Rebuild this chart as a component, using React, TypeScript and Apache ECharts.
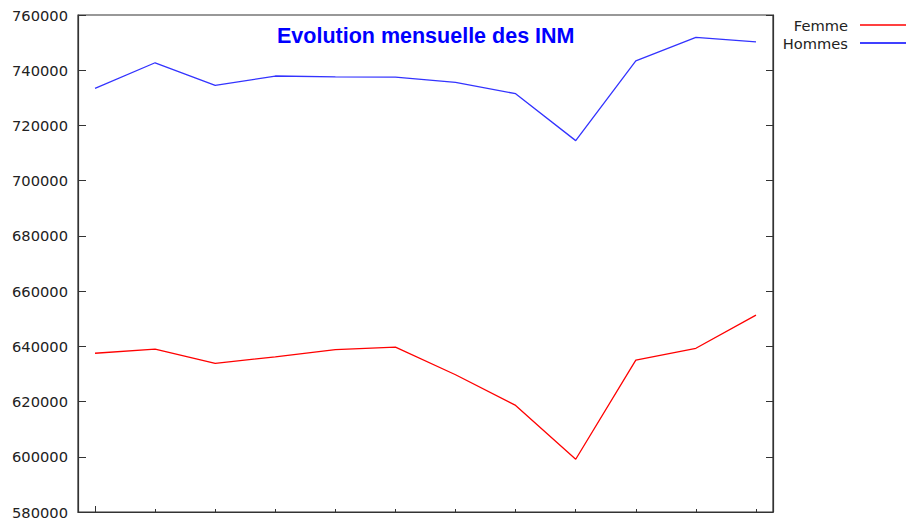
import React, { useEffect, useRef } from "react";
import * as echarts from "echarts";

const monthIndex = [0, 1, 2, 3, 4, 5, 6, 7, 8, 9, 10, 11];
const femme = [637500, 639000, 633800, 636200, 638800, 639700, 629700, 618600, 599100, 635000, 639300, 651300];
const hommes = [733400, 742700, 734500, 737900, 737600, 737500, 735600, 731500, 714500, 743400, 751900, 750300];
const seriesNames = ["Femme", "Hommes"];
const titleText = "Evolution mensuelle des INM";

export default function App() {
  const ref = useRef<HTMLDivElement>(null);
  useEffect(() => {
    if (!ref.current) return;
    const chart = echarts.init(ref.current, null, { renderer: "svg" });
    const labelFont = "DejaVu Sans";
    const axisColor = "#333";
    const xMin = -17 / 60;
    const xMax = 11 + 17 / 60;
    chart.setOption({
      animation: false,
      backgroundColor: "#fff",
      title: {
        text: titleText,
        left: 277,
        top: 25,
        padding: 0,
        textStyle: { color: "#0000ff", fontFamily: "Liberation Sans", fontWeight: "bold", fontSize: 21.5 },
      },
      legend: [
        {
          data: [seriesNames[0]],
          orient: "vertical",
          align: "right",
          right: 0,
          top: 17.5,
          padding: 0,
          icon: "rect",
          itemWidth: 46,
          itemHeight: 1.5,
          textStyle: { color: "#222", fontFamily: labelFont, fontSize: 14.67, padding: [0, 7, 0, 0] },
        },
        {
          data: [seriesNames[1]],
          orient: "vertical",
          align: "right",
          right: 0,
          top: 35.5,
          padding: 0,
          icon: "rect",
          itemWidth: 46,
          itemHeight: 1.5,
          textStyle: { color: "#222", fontFamily: labelFont, fontSize: 14.67, padding: [0, 7, 0, 0] },
        },
      ],
      grid: {
        left: 78,
        top: 15,
        right: 133,
        bottom: 9,
        containLabel: false,
        show: true,
        borderColor: axisColor,
        borderWidth: 1.2,
        backgroundColor: "transparent",
      },
      xAxis: [
        {
          type: "value",
          min: xMin,
          max: xMax,
          position: "bottom",
          axisLine: { show: true, onZero: false, lineStyle: { color: axisColor, width: 1.2 } },
          axisTick: { show: true, inside: true, length: 3, customValues: monthIndex.slice(1), lineStyle: { color: axisColor } },
          axisLabel: { show: false },
          splitLine: { show: false },
        },
        {
          type: "value",
          min: xMin,
          max: xMax,
          position: "bottom",
          axisLine: { show: false, onZero: false },
          axisTick: { show: true, inside: true, length: 6, customValues: [monthIndex[0]], lineStyle: { color: axisColor } },
          axisLabel: { show: false },
          splitLine: { show: false },
        },
      ],
      yAxis: [
        {
          type: "value",
          min: 580000,
          max: 760000,
          interval: 20000,
          position: "left",
          axisLine: { show: true, onZero: false, lineStyle: { color: axisColor, width: 1.2 } },
          axisTick: { show: true, inside: true, length: 8, lineStyle: { color: axisColor } },
          axisLabel: { color: "#222", fontFamily: labelFont, fontSize: 14.67, margin: 10, formatter: (v: number) => String(v) },
          splitLine: { show: false },
        },
        {
          type: "value",
          min: 580000,
          max: 760000,
          interval: 20000,
          position: "right",
          axisLine: { show: true, onZero: false, lineStyle: { color: axisColor, width: 1.2 } },
          axisTick: { show: true, inside: true, length: 7, lineStyle: { color: axisColor } },
          axisLabel: { show: false },
          splitLine: { show: false },
        },
      ],
      series: [
        {
          name: seriesNames[0],
          type: "line",
          symbol: "none",
          color: "#ff0000",
          lineStyle: { color: "#ff0000", width: 1.3 },
          data: monthIndex.map((i) => [i, femme[i]]),
        },
        {
          name: seriesNames[1],
          type: "line",
          symbol: "none",
          color: "#0000ff",
          lineStyle: { color: "#3333ff", width: 1.3 },
          data: monthIndex.map((i) => [i, hommes[i]]),
        },
      ],
    });
    return () => chart.dispose();
  }, []);
  return <div ref={ref} style={{ position: "fixed", left: 0, top: 0, width: 906, height: 521 }} />;
}
